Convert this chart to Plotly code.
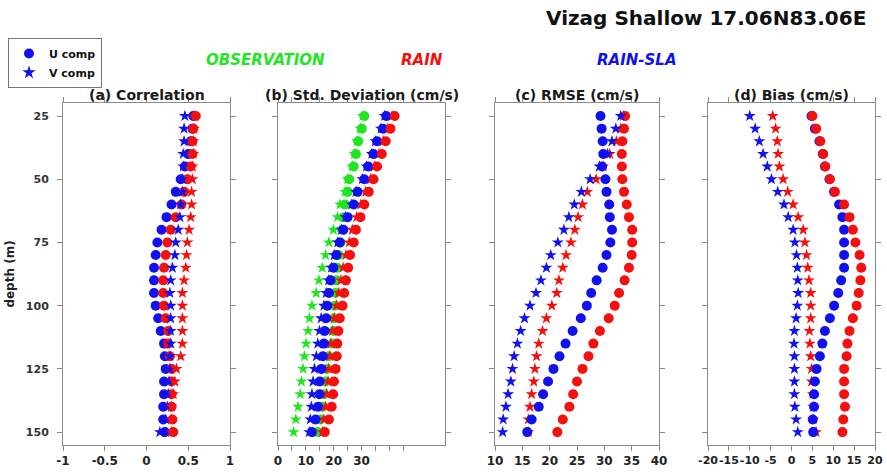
import plotly.graph_objects as go

# Depth levels (m)
depth = [25, 30, 35, 40, 45, 50, 55, 60, 65, 70, 75, 80, 85, 90,
         95, 100, 105, 110, 115, 120, 125, 130, 135, 140, 145, 150]

# (a) Correlation
corr_sla_u = [0.56, 0.55, 0.53, 0.50, 0.46, 0.41, 0.35, 0.30, 0.24, 0.18, 0.13, 0.11, 0.09,
              0.09, 0.09, 0.11, 0.14, 0.17, 0.21, 0.22, 0.23, 0.21, 0.21, 0.20, 0.20, 0.22]
corr_sla_v = [0.46, 0.45, 0.45, 0.44, 0.44, 0.43, 0.43, 0.41, 0.40, 0.38, 0.35, 0.34, 0.31,
              0.29, 0.28, 0.29, 0.29, 0.29, 0.29, 0.28, 0.28, 0.27, 0.26, 0.25, 0.23, 0.16]
corr_rain_u = [0.59, 0.56, 0.55, 0.55, 0.53, 0.49, 0.45, 0.42, 0.35, 0.29, 0.25, 0.23, 0.21,
               0.20, 0.20, 0.21, 0.23, 0.26, 0.26, 0.28, 0.30, 0.30, 0.30, 0.30, 0.31, 0.32]
corr_rain_v = [0.58, 0.57, 0.56, 0.56, 0.55, 0.55, 0.54, 0.54, 0.53, 0.51, 0.49, 0.48, 0.47,
               0.45, 0.43, 0.43, 0.43, 0.43, 0.43, 0.41, 0.36, 0.34, 0.32, 0.30, 0.30, 0.30]

# (b) Standard deviation (cm/s)
std_obs_u = [31.0, 30.1, 28.8, 28.0, 27.2, 25.6, 25.0, 24.1, 23.6, 23.0, 22.5, 21.8, 21.3,
             21.0, 20.7, 20.5, 20.1, 19.9, 19.5, 18.3, 17.7, 17.2, 16.6, 16.0, 15.2, 14.2]
std_obs_v = [30.5, 29.6, 28.4, 27.5, 26.7, 25.0, 24.1, 22.3, 21.4, 19.9, 18.3, 17.1, 15.9,
             14.7, 13.7, 12.2, 11.3, 10.8, 10.1, 9.5, 9.0, 8.4, 8.0, 7.2, 6.4, 5.6]
std_sla_u = [38.9, 37.7, 35.6, 34.3, 32.4, 31.0, 28.6, 27.2, 25.0, 23.5, 22.2, 21.0, 19.9,
             18.9, 18.3, 17.7, 17.3, 16.8, 16.5, 16.1, 15.6, 15.0, 14.9, 14.4, 13.5, 12.2]
std_sla_v = [38.3, 37.0, 35.0, 33.7, 31.8, 30.3, 28.0, 26.5, 24.3, 22.8, 21.5, 20.2, 19.2,
             18.2, 17.3, 16.5, 15.5, 14.9, 14.3, 13.8, 13.1, 12.6, 12.2, 12.0, 11.6, 11.2]
std_rain_u = [41.9, 40.4, 38.7, 37.3, 35.6, 34.3, 32.6, 31.0, 29.6, 28.0, 27.2, 25.9, 25.2,
              24.4, 23.8, 23.2, 22.2, 21.7, 21.3, 21.1, 20.7, 20.1, 19.8, 19.3, 18.3, 16.8]
std_rain_v = [41.0, 39.5, 37.8, 36.3, 34.6, 33.2, 31.5, 29.8, 28.3, 26.7, 25.6, 24.4, 23.4,
              22.6, 21.8, 21.0, 20.2, 19.6, 19.0, 18.6, 18.2, 18.0, 17.5, 17.1, 16.5, 16.0]

# (c) RMSE (cm/s)
rmse_sla_u = [29.3, 29.5, 29.7, 29.8, 29.6, 30.2, 30.4, 30.9, 31.0, 31.4, 31.1, 30.4, 29.7,
              28.6, 27.6, 26.8, 25.7, 24.2, 22.9, 21.8, 20.7, 19.7, 18.8, 18.0, 16.7, 15.9]
rmse_sla_v = [33.0, 32.1, 31.4, 30.6, 29.1, 27.4, 25.8, 24.5, 23.5, 22.6, 21.5, 20.2, 19.4,
              18.4, 17.5, 16.4, 15.4, 14.7, 14.1, 13.5, 13.2, 12.9, 12.4, 12.0, 11.5, 11.4]
rmse_rain_u = [33.8, 33.6, 33.3, 33.2, 33.2, 33.3, 33.6, 34.1, 34.5, 35.1, 35.1, 35.0, 34.5,
               33.7, 32.7, 31.9, 30.8, 29.2, 28.0, 27.1, 26.0, 25.0, 24.3, 23.6, 22.4, 21.4]
rmse_rain_v = [33.5, 33.0, 32.2, 31.0, 29.8, 28.5, 26.9, 26.0, 25.2, 24.6, 23.9, 23.0, 22.4,
               21.7, 21.3, 20.4, 19.4, 18.7, 18.0, 17.6, 17.3, 17.1, 16.7, 16.4, 16.1, 16.1]

# (d) Bias (cm/s)
bias_sla_u = [4.8, 5.6, 6.7, 7.5, 8.0, 9.1, 10.2, 11.4, 12.2, 12.6, 12.6, 12.6, 12.6,
              11.9, 11.2, 10.2, 9.2, 8.0, 7.4, 6.8, 6.0, 5.6, 5.4, 5.4, 5.1, 5.2]
bias_sla_v = [-10.0, -8.7, -7.7, -6.8, -5.8, -4.8, -3.3, -1.8, -0.8, 0.4, 0.8, 1.2, 1.4,
              1.5, 1.6, 1.4, 1.1, 0.7, 0.6, 0.7, 0.7, 0.7, 0.7, 0.8, 1.1, 1.5]
bias_rain_u = [5.0, 5.9, 6.9, 7.6, 8.1, 9.2, 10.4, 12.6, 13.9, 14.7, 15.3, 16.3, 16.7,
               16.5, 16.1, 15.6, 14.7, 13.9, 13.4, 13.2, 12.6, 12.6, 12.6, 12.8, 12.4, 12.2]
bias_rain_v = [-4.5, -3.8, -3.4, -3.2, -2.9, -2.0, -0.9, 0.4, 1.6, 2.8, 3.2, 3.6, 3.9,
               4.2, 4.6, 4.6, 4.6, 4.3, 4.4, 4.6, 4.8, 4.8, 5.1, 5.2, 5.2, 5.9]

# Axis ticks
corr_ticks = [-1, -0.5, 0, 0.5, 1]
std_ticks = [0, 5, 10, 15, 20, 25, 30, 35, 40, 45]
std_ticklabels = ["0", "", "10", "", "20", "", "30", "", "", ""]
rmse_ticks = [10, 15, 20, 25, 30, 35, 40]
bias_ticks = [-20, -15, -10, -5, 0, 5, 10, 15, 20]
depth_ticks = [25, 50, 75, 100, 125, 150]

W, H = 887, 472
GREEN, RED, BLUE = "#1fe61f", "#f50f0f", "#1010f0"
FRAME = "#8a8a8a"
FONT = "DejaVu Sans"


def px(x):
    return x / W


def py(y):
    return 1 - y / H


panels = [
    dict(title="(a) Correlation", xr=[-1, 1], tv=corr_ticks,
         tt=["-1", "-0.5", "0", "0.5", "1"], dom=(63, 230),
         series=[(corr_sla_u, BLUE, "circle"), (corr_rain_u, RED, "circle"),
                 (corr_sla_v, BLUE, "star"), (corr_rain_v, RED, "star")]),
    dict(title="(b) Std. Deviation (cm/s)", xr=[0, 60], tv=std_ticks,
         tt=std_ticklabels, dom=(278, 445),
         series=[(std_obs_u, GREEN, "circle"), (std_obs_v, GREEN, "star"),
                 (std_rain_v, RED, "star"), (std_sla_u, BLUE, "circle"),
                 (std_rain_u, RED, "circle"), (std_sla_v, BLUE, "star")]),
    dict(title="(c) RMSE (cm/s)", xr=[10, 40], tv=rmse_ticks,
         tt=[str(v) for v in rmse_ticks], dom=(495, 659),
         series=[(rmse_rain_v, RED, "star"), (rmse_sla_u, BLUE, "circle"),
                 (rmse_rain_u, RED, "circle"), (rmse_sla_v, BLUE, "star")]),
    dict(title="(d) Bias (cm/s)", xr=[-20, 20], tv=bias_ticks,
         tt=[str(v) for v in bias_ticks], dom=(708, 875),
         series=[(bias_rain_v, RED, "star"), (bias_sla_u, BLUE, "circle"),
                 (bias_rain_u, RED, "circle"), (bias_sla_v, BLUE, "star")]),
]

fig = go.Figure()
annotations = []
layout_axes = {}
ydom = [py(445), py(103)]

for i, p in enumerate(panels):
    n = "" if i == 0 else str(i + 1)
    for vals, color, sym in p["series"]:
        fig.add_trace(go.Scatter(
            x=vals, y=depth, mode="markers", showlegend=False,
            xaxis="x" + n, yaxis="y" + n,
            marker=dict(symbol=sym, color=color, size=10 if sym == "circle" else 9,
                        line=dict(width=0)),
        ))
    layout_axes["xaxis" + n] = dict(
        domain=[px(p["dom"][0]), px(p["dom"][1])], range=p["xr"], anchor="y" + n,
        tickvals=p["tv"], ticktext=p["tt"], ticks="outside", ticklen=5,
        tickcolor=FRAME, showline=True, linecolor=FRAME, linewidth=1, mirror="ticks",
        showgrid=False, zeroline=False, automargin=False, tickangle=0,
        tickfont=dict(family=FONT, size=12 if i < 3 else 11, color="#222", weight="bold"),
    )
    layout_axes["yaxis" + n] = dict(
        domain=ydom, range=[155.1, 19.86], anchor="x" + n,
        tickvals=depth_ticks, ticks="outside", ticklen=5, tickcolor=FRAME,
        showline=True, linecolor=FRAME, linewidth=1, mirror="ticks",
        showgrid=False, zeroline=False, showticklabels=(i == 0), automargin=False,
        ticklabelstandoff=6,
        tickfont=dict(family=FONT, size=11, color="#333", weight="bold"),
    )
    annotations.append(dict(
        x=px((p["dom"][0] + p["dom"][1]) / 2), y=py(95), xref="paper", yref="paper",
        text=p["title"], showarrow=False, xanchor="center", yanchor="middle",
        font=dict(family=FONT, size=14, color="#1a1a1a", weight="bold"),
    ))

layout_axes["yaxis"]["title"] = dict(
    text="depth (m)", standoff=8,
    font=dict(family=FONT, size=12, color="#222", weight="bold"))

# Legend entries for the two velocity components
fig.add_trace(go.Scatter(x=[None], y=[None], mode="markers", name="U comp",
                         marker=dict(symbol="circle", color=BLUE, size=10)))
fig.add_trace(go.Scatter(x=[None], y=[None], mode="markers", name="V comp",
                         marker=dict(symbol="star", color=BLUE, size=10)))

annotations += [
    dict(x=px(706), y=py(18), text="Vizag Shallow 17.06N83.06E",
         font=dict(family=FONT, size=20, color="#111", weight="bold")),
    dict(x=px(265), y=py(60), text="<i>OBSERVATION</i>",
         font=dict(family=FONT, size=15, color=GREEN, weight="bold")),
    dict(x=px(422), y=py(60), text="<i>RAIN</i>",
         font=dict(family=FONT, size=15, color=RED, weight="bold")),
    dict(x=px(637), y=py(60), text="<i>RAIN-SLA</i>",
         font=dict(family=FONT, size=15, color=BLUE, weight="bold")),
]
for a in annotations[-4:]:
    a.update(xref="paper", yref="paper", showarrow=False,
             xanchor="center", yanchor="middle")

fig.update_layout(
    width=W, height=H, margin=dict(l=0, r=0, t=0, b=0, autoexpand=False),
    paper_bgcolor="white", plot_bgcolor="white",
    annotations=annotations,
    showlegend=True,
    legend=dict(x=px(8), y=py(38), xanchor="left", yanchor="top",
                bordercolor="#777", borderwidth=1, bgcolor="white",
                font=dict(family=FONT, size=11, color="#111", weight="bold"),
                tracegroupgap=0, itemwidth=30),
    **layout_axes,
)

fig.write_html("out.html")
